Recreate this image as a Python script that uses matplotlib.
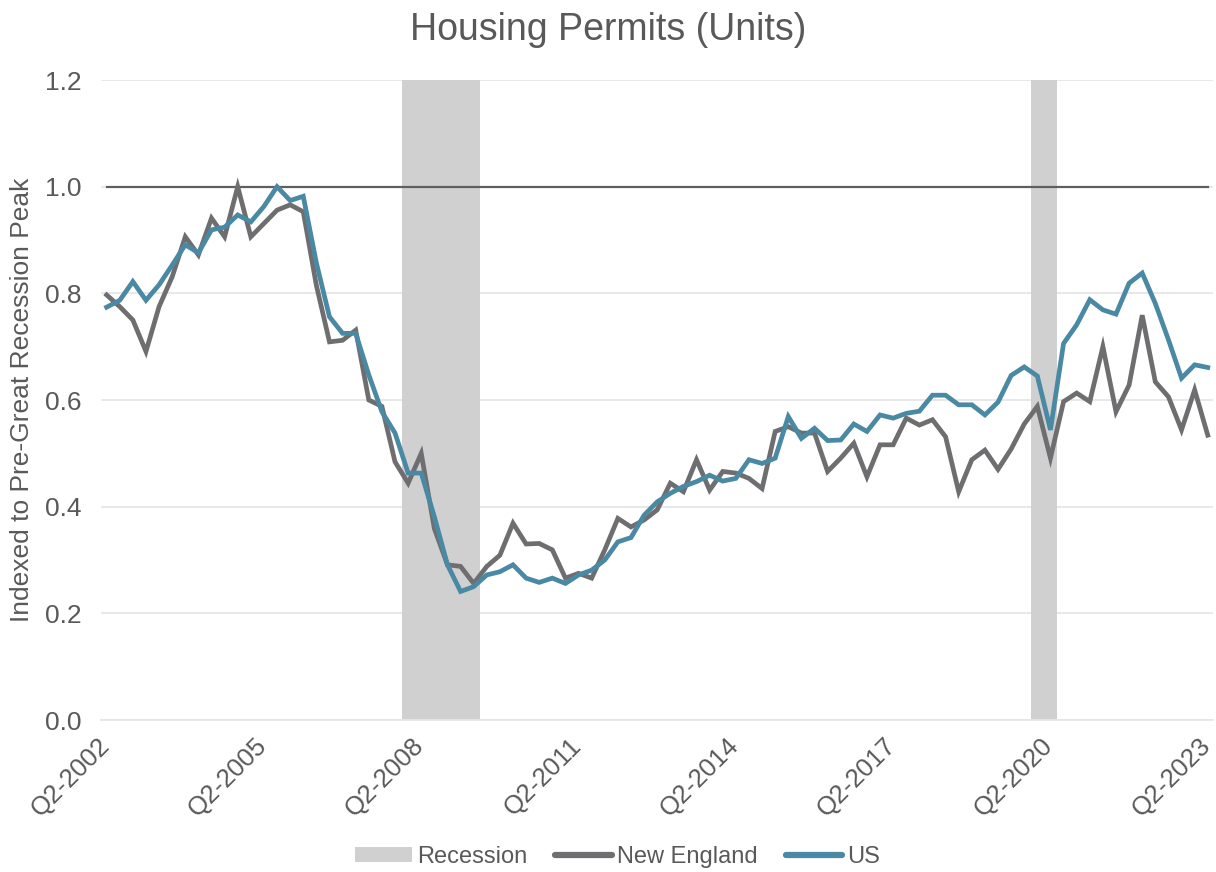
import numpy as np
import matplotlib
matplotlib.use("Agg")
import matplotlib.pyplot as plt
from matplotlib.patches import Patch
from matplotlib.lines import Line2D
from matplotlib.transforms import ScaledTranslation, blended_transform_factory

plt.rcParams['font.family'] = ['Liberation Sans', 'DejaVu Sans']

# quarters Q2-2002 .. Q2-2023
quarters = [f"Q{(1 + i) % 4 + 1}-{2002 + (1 + i) // 4}" for i in range(85)]

new_england = [
    0.797, 0.775, 0.750, 0.691, 0.775, 0.831, 0.906, 0.872, 0.941, 0.906,
    1.000, 0.906, 0.931, 0.956, 0.966, 0.953, 0.815, 0.709, 0.712, 0.731,
    0.600, 0.588, 0.484, 0.444, 0.500, 0.359, 0.291, 0.288, 0.256, 0.288,
    0.309, 0.369, 0.330, 0.331, 0.319, 0.266, 0.275, 0.266, 0.319, 0.378,
    0.362, 0.375, 0.394, 0.444, 0.428, 0.488, 0.431, 0.466, 0.463, 0.453,
    0.434, 0.541, 0.550, 0.538, 0.538, 0.466, 0.491, 0.519, 0.456, 0.516,
    0.516, 0.566, 0.553, 0.563, 0.531, 0.428, 0.488, 0.506, 0.470, 0.508,
    0.555, 0.588, 0.491, 0.597, 0.613, 0.597, 0.700, 0.578, 0.628, 0.759,
    0.634, 0.606, 0.544, 0.619, 0.534,
]

us = [
    0.774, 0.787, 0.822, 0.787, 0.816, 0.853, 0.891, 0.876, 0.919, 0.924,
    0.947, 0.934, 0.963, 1.000, 0.974, 0.982, 0.857, 0.756, 0.725, 0.725,
    0.647, 0.578, 0.538, 0.463, 0.463, 0.381, 0.291, 0.241, 0.250, 0.272,
    0.278, 0.291, 0.266, 0.258, 0.266, 0.256, 0.272, 0.281, 0.300, 0.334,
    0.342, 0.384, 0.409, 0.425, 0.438, 0.447, 0.459, 0.448, 0.453, 0.488,
    0.481, 0.491, 0.569, 0.528, 0.547, 0.524, 0.525, 0.555, 0.541, 0.572,
    0.566, 0.575, 0.579, 0.609, 0.609, 0.591, 0.591, 0.572, 0.596, 0.646,
    0.662, 0.645, 0.544, 0.706, 0.741, 0.788, 0.769, 0.761, 0.819, 0.838,
    0.781, 0.713, 0.641, 0.666, 0.661,
]

# 1 = quarter in recession (Q1-2008..Q2-2009, Q1-2020..Q2-2020)
recession = [0] * 85
for q in ["Q1-2008", "Q2-2008", "Q3-2008", "Q4-2008", "Q1-2009", "Q2-2009",
          "Q1-2020", "Q2-2020"]:
    recession[quarters.index(q)] = 1

peak_level = 1.0
y_ticks = [0.0, 0.2, 0.4, 0.6, 0.8, 1.0, 1.2]

text_color = '#595959'
ne_color = '#6E6E71'
us_color = '#4A89A4'
rec_color = '#D0D0D0'

fig = plt.figure(figsize=(12.16, 8.72), dpi=100)
ax = fig.add_axes([101 / 1216, 1 - 720 / 872, 1112 / 1216, 640 / 872])

x = np.arange(len(quarters))
ymax = y_ticks[-1]

ax.bar(x, np.array(recession) * ymax, width=1.0, color=rec_color,
       linewidth=0, zorder=1)
ax.plot([x[0], x[-1]], [peak_level, peak_level], color='#5F5F62',
        linewidth=1.6, zorder=2)
ax.plot(x, new_england, color=ne_color, linewidth=3.4, zorder=3,
        solid_joinstyle='miter')
ax.plot(x, us, color=us_color, linewidth=3.4, zorder=4,
        solid_joinstyle='miter')

ax.set_xlim(-0.43, 84.4)
ax.set_ylim(0, ymax)
ax.set_yticks(y_ticks)
ax.set_yticklabels([f"{v:.1f}" for v in y_ticks])
ax.yaxis.grid(True, color='#E6E6E6', linewidth=1.3, zorder=0)
ax.set_axisbelow(True)

# rotated category labels, drawn by hand so they can sit like Excel's
tick_pos = x[::12]
ax.set_xticks(tick_pos)
ax.set_xticklabels([])
lbl_trans = blended_transform_factory(ax.transData, ax.transAxes) + \
    ScaledTranslation(-1 / 100, -22 / 100, fig.dpi_scale_trans)
for i in tick_pos:
    ax.text(i, 0, quarters[i], transform=lbl_trans, rotation=45,
            ha='right', va='center', rotation_mode='anchor',
            fontsize=18.5, color=text_color, clip_on=False)

for s in ['top', 'right', 'left']:
    ax.spines[s].set_visible(False)
ax.spines['bottom'].set_color('#E6E6E6')
ax.spines['bottom'].set_linewidth(1.3)
ax.tick_params(axis='both', length=0, colors=text_color)
ax.tick_params(axis='y', labelsize=19, pad=14)

ax.set_ylabel('Indexed to Pre-Great Recession Peak', fontsize=19,
              color=text_color, labelpad=8)
fig.suptitle('Housing Permits (Units)', fontsize=27, color=text_color,
             y=0.986)

handles = [
    Patch(facecolor=rec_color, edgecolor='none', label='Recession'),
    Line2D([0], [0], color=ne_color, linewidth=4.5, label='New England',
           solid_capstyle='round'),
    Line2D([0], [0], color=us_color, linewidth=4.5, label='US',
           solid_capstyle='round'),
]
leg = fig.legend(handles=handles, loc='center', bbox_to_anchor=(0.508, 0.017),
                 ncol=3, frameon=False, fontsize=17, handlelength=2.4,
                 handletextpad=0.2, columnspacing=1.2, handleheight=0.6)
for t in leg.get_texts():
    t.set_color(text_color)

fig.savefig('out.png', dpi=100)
